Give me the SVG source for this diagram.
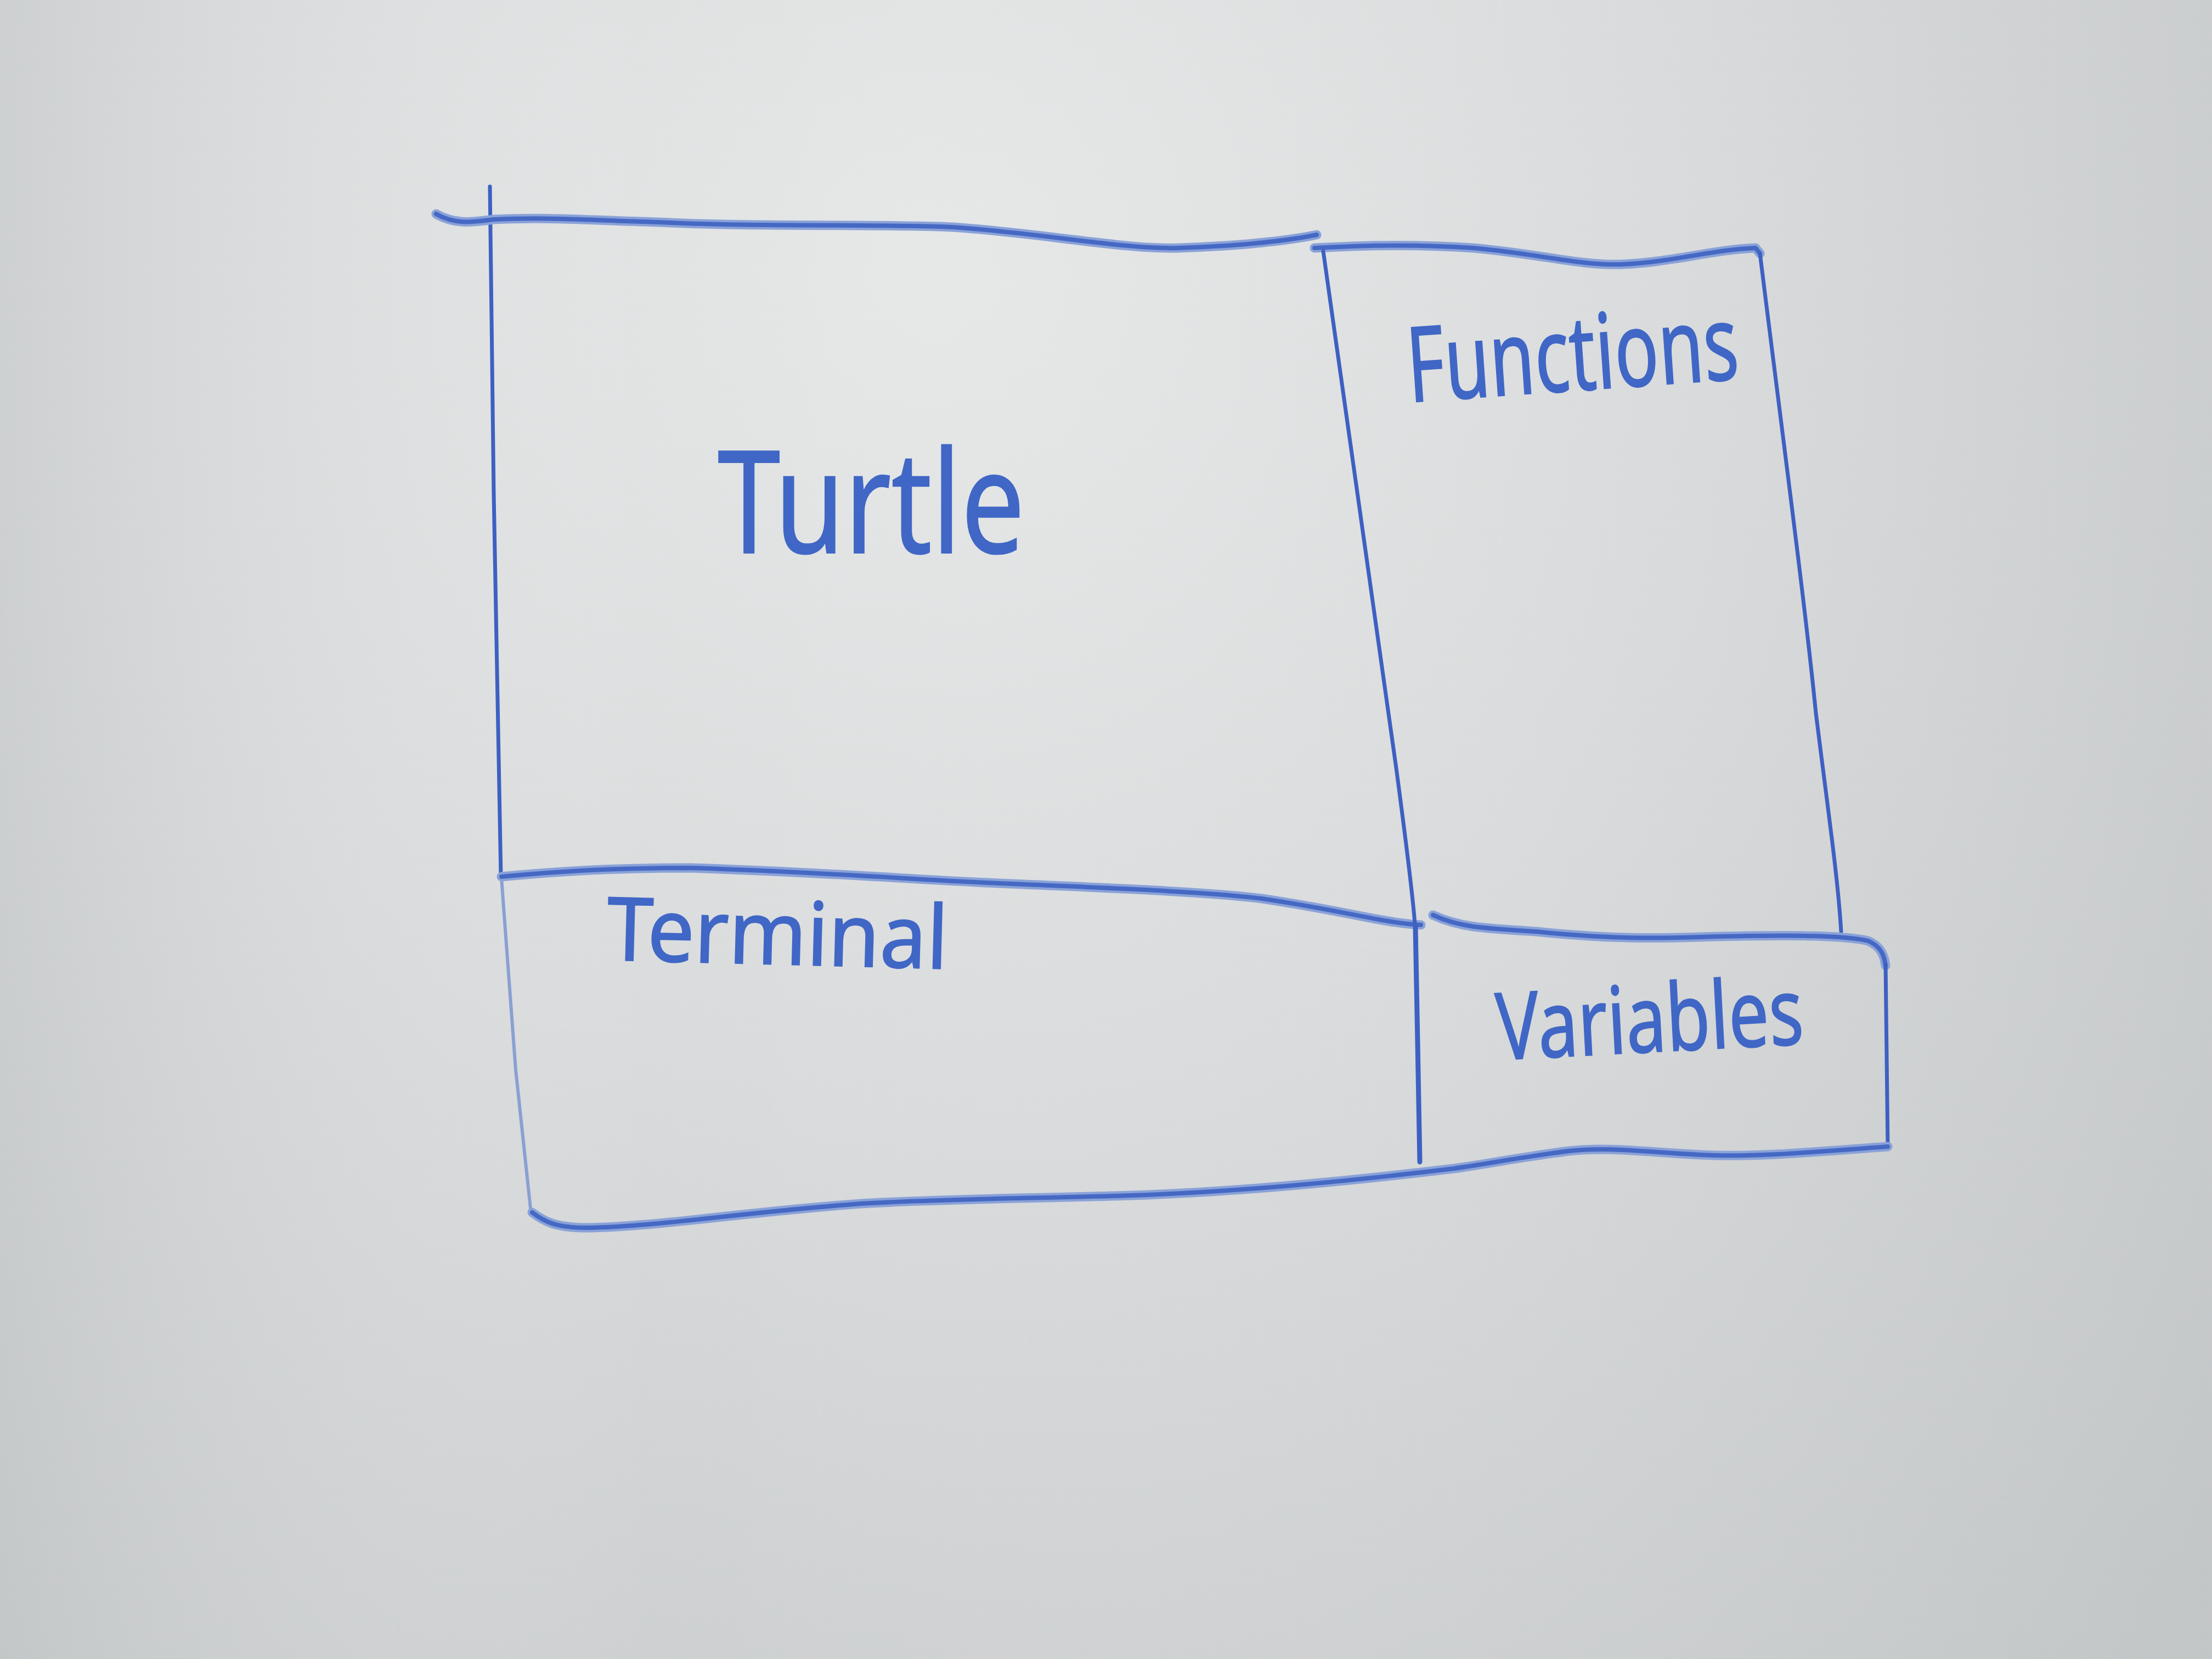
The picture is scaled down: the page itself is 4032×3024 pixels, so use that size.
<svg xmlns="http://www.w3.org/2000/svg" width="4032" height="3024" viewBox="0 0 4032 3024">
  <defs>
    <radialGradient id="board" cx="1700" cy="500" r="3300" gradientUnits="userSpaceOnUse">
      <stop offset="0" stop-color="#e6e8e8"/>
      <stop offset="0.45" stop-color="#d9dbdc"/>
      <stop offset="1" stop-color="#c6c9ca"/>
    </radialGradient>
    <linearGradient id="shade" x1="0" y1="0" x2="1" y2="0">
      <stop offset="0" stop-color="#b9bdbf" stop-opacity="0.3"/>
      <stop offset="0.3" stop-color="#ffffff" stop-opacity="0"/>
      <stop offset="1" stop-color="#b9bdbf" stop-opacity="0.2"/>
    </linearGradient>
  </defs>
  <style>
    .ink { fill: none; stroke-linecap: round; stroke-linejoin: round; }
    .thick-edge { stroke: #8aa2d8; stroke-width: 17; }
    .thick-core { stroke: #4568c4; stroke-width: 8; }
    .thin { stroke: #3d60c2; stroke-width: 7; }
    .faint { stroke: #8aa0d2; stroke-width: 6; }
    .label { font-family: "Noto Sans", "Liberation Sans", sans-serif; fill: #4067c6; stroke: #4067c6; stroke-width: 2; }
  </style>

  <!-- whiteboard surface -->
  <rect width="4032" height="3024" fill="url(#board)"/>
  <rect width="4032" height="3024" fill="url(#shade)"/>

  <g id="connectors">
    <!-- outer left edge -->
    <path class="ink thin" d="M893,340 L900,900 L913,1596"/>
    <path class="ink faint" d="M914,1600 L940,1950 L968,2212"/>
    <!-- top edge of Turtle -->
    <g>
      <path class="ink thick-edge" d="M795,390 C830,410 860,405 900,400 C1000,395 1080,402 1200,405 C1367,414 1600,408 1736,414 C1900,425 2050,455 2148,452 C2260,448 2340,440 2400,428"/>
      <path class="ink thick-core" d="M795,390 C830,410 860,405 900,400 C1000,395 1080,402 1200,405 C1367,414 1600,408 1736,414 C1900,425 2050,455 2148,452 C2260,448 2340,440 2400,428"/>
    </g>
    <!-- Turtle / Terminal divider -->
    <g>
      <path class="ink thick-edge" d="M914,1598 C1000,1590 1100,1582 1259,1582 C1500,1590 1650,1602 1798,1609 C2000,1618 2200,1625 2300,1638 C2450,1660 2520,1682 2590,1686"/>
      <path class="ink thick-core" d="M914,1598 C1000,1590 1100,1582 1259,1582 C1500,1590 1650,1602 1798,1609 C2000,1618 2200,1625 2300,1638 C2450,1660 2520,1682 2590,1686"/>
    </g>
    <!-- top edge of Functions -->
    <g>
      <path class="ink thick-edge" d="M2396,452 C2500,446 2600,446 2685,452 C2800,462 2880,484 2953,482 C3050,478 3120,455 3200,452 L3208,462"/>
      <path class="ink thick-core" d="M2396,452 C2500,446 2600,446 2685,452 C2800,462 2880,484 2953,482 C3050,478 3120,455 3200,452 L3208,462"/>
    </g>
    <!-- Functions right side -->
    <path class="ink thin" d="M3208,462 C3250,800 3290,1100 3310,1300 C3335,1500 3350,1600 3356,1698"/>
    <!-- Functions left side, continuing down past Variables -->
    <path class="ink thin" d="M2412,458 C2460,800 2510,1150 2545,1400 C2565,1550 2575,1630 2579,1684"/>
    <path class="ink thin" style="stroke-width:9" d="M2580,1690 L2584,1900 L2588,2118"/>
    <!-- top edge of Variables -->
    <g>
      <path class="ink thick-edge" d="M2612,1668 C2660,1690 2700,1692 2800,1698 C2900,1708 2974,1712 3100,1708 C3250,1704 3356,1704 3405,1715 C3430,1725 3435,1745 3437,1760"/>
      <path class="ink thick-core" d="M2612,1668 C2660,1690 2700,1692 2800,1698 C2900,1708 2974,1712 3100,1708 C3250,1704 3356,1704 3405,1715 C3430,1725 3435,1745 3437,1760"/>
    </g>
    <!-- Variables right side -->
    <path class="ink thin" d="M3437,1758 L3441,2092"/>
    <!-- bottom edge shared by Terminal and Variables -->
    <g>
      <path class="ink thick-edge" d="M3441,2090 C3300,2100 3200,2110 3100,2105 C3000,2100 2930,2090 2860,2098 C2780,2108 2720,2120 2650,2130 C2400,2160 2200,2176 2028,2180 C1850,2185 1700,2186 1569,2194 C1350,2210 1200,2236 1070,2238 C1010,2238 990,2225 970,2210"/>
      <path class="ink thick-core" d="M3441,2090 C3300,2100 3200,2110 3100,2105 C3000,2100 2930,2090 2860,2098 C2780,2108 2720,2120 2650,2130 C2400,2160 2200,2176 2028,2180 C1850,2185 1700,2186 1569,2194 C1350,2210 1200,2236 1070,2238 C1010,2238 990,2225 970,2210"/>
    </g>
  </g>

  <g id="turtle">
    <text class="label" x="1308" y="1008" font-size="260" textLength="560" lengthAdjust="spacingAndGlyphs">Turtle</text>
  </g>

  <g id="functions">
    <text class="label" x="2566" y="712" font-size="190" textLength="605" lengthAdjust="spacingAndGlyphs" transform="rotate(-4 2870 680)">Functions</text>
  </g>

  <g id="terminal">
    <text class="label" x="1106" y="1758" font-size="160" textLength="622" lengthAdjust="spacingAndGlyphs" transform="rotate(1.5 1420 1720)">Terminal</text>
  </g>

  <g id="variables">
    <text class="label" x="2728" y="1918" font-size="170" textLength="560" lengthAdjust="spacingAndGlyphs" transform="rotate(-3 3000 1880)">Variables</text>
  </g>
</svg>
